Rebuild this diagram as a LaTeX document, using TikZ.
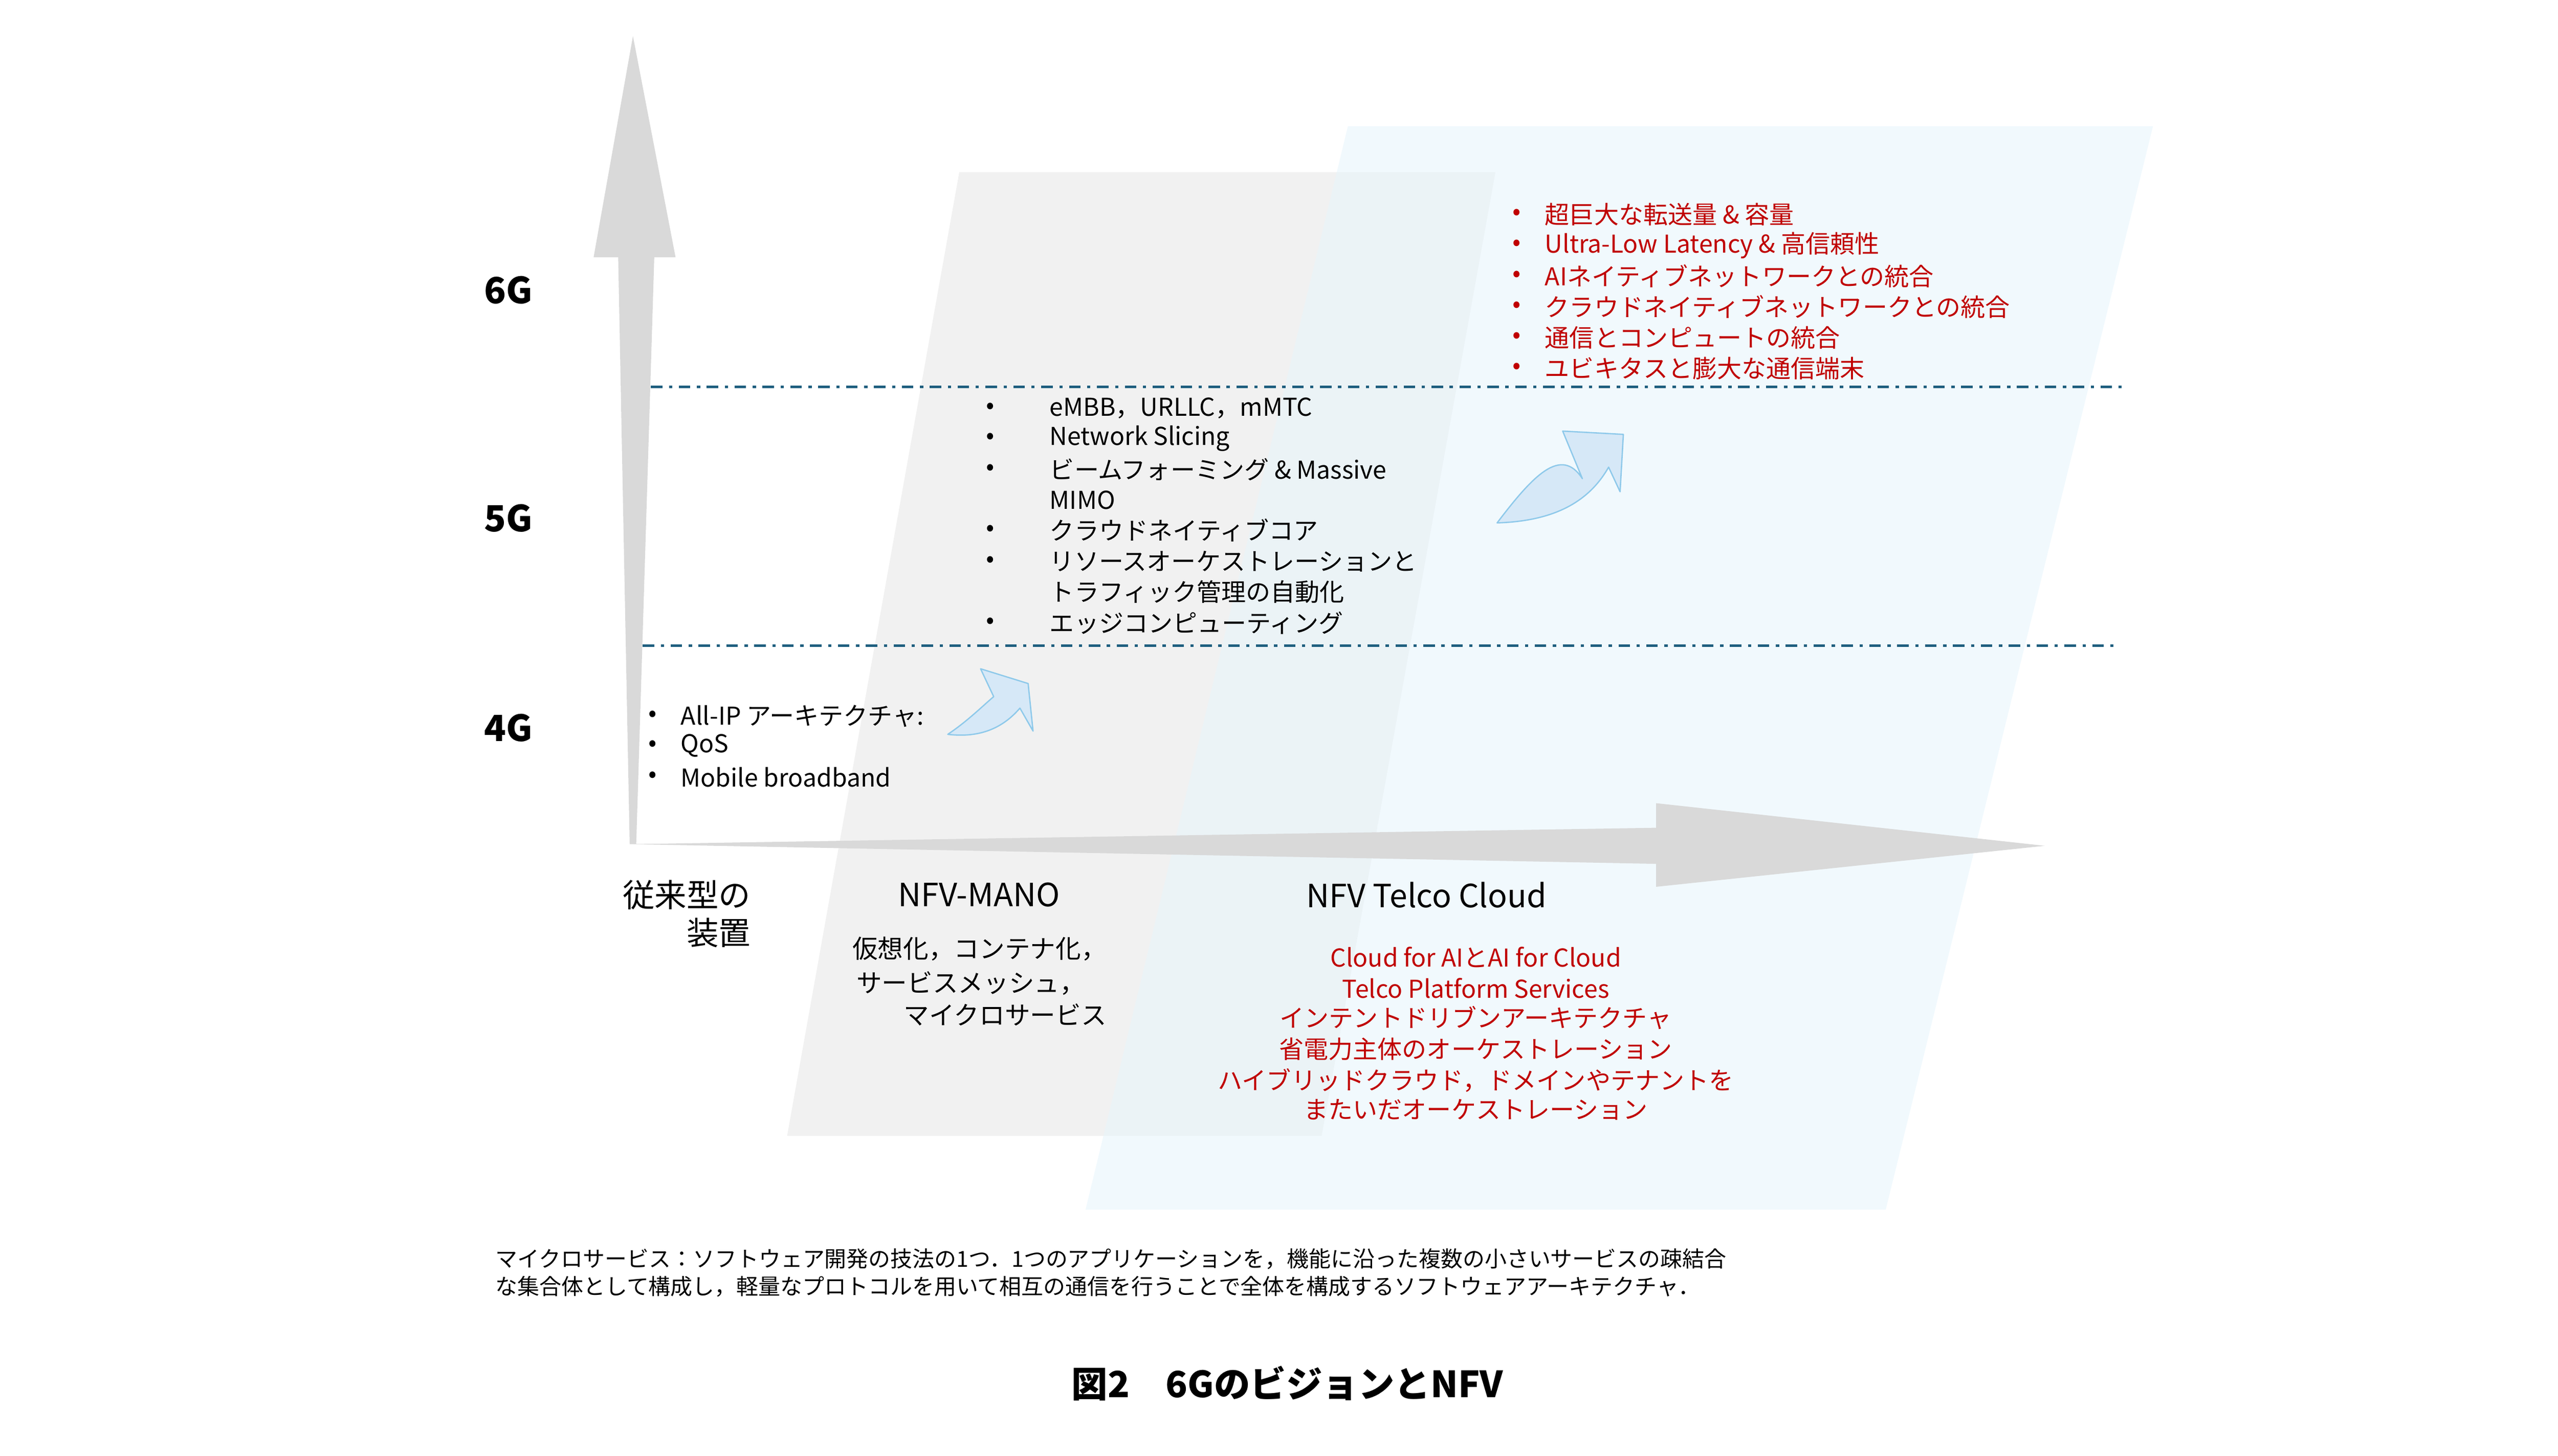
\documentclass[tikz,border=0pt]{standalone}
\usepackage{fontspec}
\setmainfont{Noto Sans CJK JP}
\usetikzlibrary{calc}
\definecolor{red1}{HTML}{C00000}
\definecolor{dline}{HTML}{1F5F7F}
\definecolor{ar}{HTML}{D6E8F7}
\definecolor{arb}{HTML}{8EC9EA}
\definecolor{lb}{HTML}{E6F4FC}
\begin{document}
\begin{tikzpicture}[x=1pt,y=-1pt,
  txt/.style={font=\fontsize{15}{17}\selectfont,inner sep=0pt},
  gl/.style={font=\fontsize{22}{24}\selectfont\bfseries,inner sep=0pt},
  lab/.style={font=\fontsize{19.5}{22}\selectfont,inner sep=0pt},
  dd/.style={dline,line width=1.6pt,dash pattern=on 7pt off 4pt on 2pt off 4pt},
  carr/.style={fill=ar,draw=arb,line width=0.8pt,line join=round}]
\useasboundingbox (0,0) rectangle (1560,888);
% background shapes
\fill[gray!12,opacity=0.9] (585,105) -- (912,105) -- (806,693) -- (480,693) -- cycle;
\fill[lb,opacity=0.55] (822,77) -- (1313,77) -- (1150,738) -- (662,738) -- cycle;
% axes
\fill[gray!30] (386,22) -- (412,157) -- (399,157) -- (388,515) -- (384,515) -- (377,157) -- (362,157) -- cycle;
\fill[gray!30] (385,515) -- (1010,505) -- (1010,490) -- (1247,516) -- (1010,541) -- (1010,527) -- cycle;
% dash-dot lines
\coordinate (l1a) at (397,236); \coordinate (l1b) at (1295,236);
\coordinate (l2a) at (392,394); \coordinate (l2b) at (1290,394);
\draw[dd] (l1a) -- (l1b);
\draw[dd] (l2a) -- (l2b);
% generation labels
\node[gl] (g6) at (310,177) {6G};
\node[gl] (g5) at (310,316) {5G};
\node[gl] (g4) at (310,444) {4G};
% curved arrows
\draw[carr] (913,319) .. controls (935,290) and (952,272) .. (965,292) -- (953,263) -- (990,265) -- (988,300) -- (981,285) .. controls (968,308) and (945,318) .. cycle;
\draw[carr] (578,448) .. controls (590,440) and (600,430) .. (606,425) -- (598,408) -- (627,417) -- (630,446) -- (622,432) .. controls (610,446) and (595,450) .. cycle;
% red 6G list
\foreach \t [count=\i] in {超巨大な転送量 \& 容量,Ultra-Low Latency \& 高信頼性,AIネイティブネットワークとの統合,クラウドネイティブネットワークとの統合,通信とコンピュートの統合,ユビキタスと膨大な通信端末}{
  \node[txt,red1] (rb\i) at (925,{112+18.8*\i}) {•};
  \node[txt,red1,anchor=west] (r\i) at (942,{112+18.8*\i}) {\t};
}
% 5G list
\foreach \y/\b/\t [count=\i] in {249/•/{eMBB，URLLC，mMTC},267.5/•/Network Slicing,286.5/•/ビームフォーミング \& Massive,305/{}/MIMO,323.5/•/クラウドネイティブコア,342.5/•/リソースオーケストレーションと,361/{}/トラフィック管理の自動化,380/•/エッジコンピューティング}{
  \node[txt] (bb\i) at (604,\y) {\b};
  \node[txt,anchor=west] (b\i) at (640,\y) {\t};
}
% 4G list
\foreach \y/\t [count=\i] in {437/All-IP アーキテクチャ:,455/QoS,474/Mobile broadband}{
  \node[txt] (fb\i) at (398,\y) {•};
  \node[txt,anchor=west] (f\i) at (415,\y) {\t};
}
% bottom labels
\node[lab,anchor=east] (c1) at (458,546) {従来型の};
\node[lab,anchor=east] (c2) at (458,569) {装置};
\node[lab] (mano) at (597,546) {NFV-MANO};
\node[lab] (tc) at (870,546) {NFV Telco Cloud};
\node[txt,anchor=east,font=\fontsize{15.5}{18}\selectfont] (m1) at (675,579) {仮想化，コンテナ化，};
\node[txt,anchor=east,font=\fontsize{15.5}{18}\selectfont] (m2) at (662,600) {サービスメッシュ，};
\node[txt,anchor=east,font=\fontsize{15.5}{18}\selectfont] (m3) at (675,619) {マイクロサービス};
\foreach \y/\t [count=\i] in {584/Cloud for AIとAI for Cloud,603/Telco Platform Services,621/インテントドリブンアーキテクチャ,640/省電力主体のオーケストレーション,659/ハイブリッドクラウド，ドメインやテナントを,677/またいだオーケストレーション}{
  \node[txt,red1] (t\i) at (900,\y) {\t};
}
% footnote
\node[txt,anchor=west,font=\fontsize{13.4}{15}\selectfont] (n1) at (302,768) {マイクロサービス：ソフトウェア開発の技法の1つ．1つのアプリケーションを，機能に沿った複数の小さいサービスの疎結合};
\node[txt,anchor=west,font=\fontsize{13.4}{15}\selectfont] (n2) at (302,785) {な集合体として構成し，軽量なプロトコルを用いて相互の通信を行うことで全体を構成するソフトウェアアーキテクチャ．};
% caption
\node[inner sep=0pt,font=\fontsize{22}{24}\selectfont\bfseries] (cap) at (785,844) {図2\quad 6GのビジョンとNFV};
\end{tikzpicture}
\end{document}
